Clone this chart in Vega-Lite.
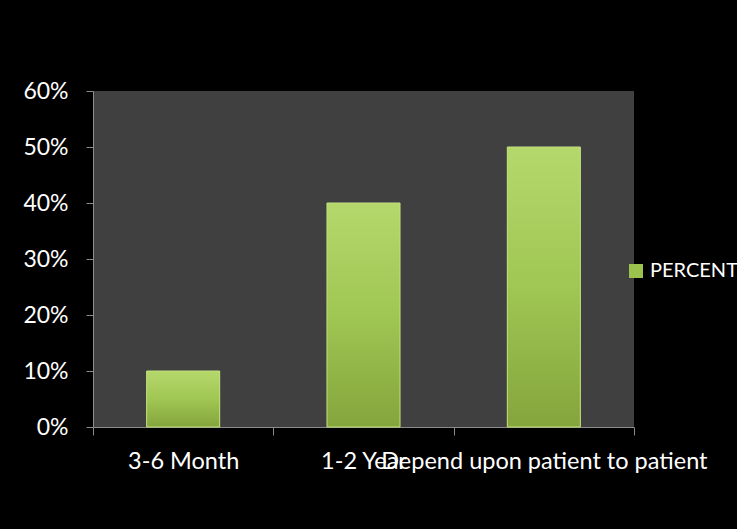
{
  "$schema": "https://vega.github.io/schema/vega-lite/v6.json",
  "autosize": "none",
  "width": 541,
  "height": 336,
  "padding": {"left": 93, "top": 91, "right": 103, "bottom": 102},
  "background": "#000000",
  "view": {"fill": "#404040", "stroke": null},
  "data": {
    "values": [
      {"period": "3-6 Month", "value": 0.10, "series": "PERCENT"},
      {"period": "1-2 Year", "value": 0.40, "series": "PERCENT"},
      {"period": "Depend upon patient to patient", "value": 0.50, "series": "PERCENT"}
    ]
  },
  "encoding": {
    "x": {
      "field": "period", "type": "nominal", "sort": null, "title": null,
      "scale": {"paddingInner": 0, "paddingOuter": 0},
      "axis": {
        "labelAngle": 0, "labelColor": "#ffffff", "labelFont": "Lato", "labelFontSize": 23.5,
        "labelPadding": 14, "labelLimit": 0, "labelOverlap": false,
        "domainColor": "#8c8c8c", "tickColor": "#8c8c8c", "tickSize": 8,
        "tickBand": "extent", "grid": false
      }
    },
    "y": {
      "field": "value", "type": "quantitative", "title": null,
      "scale": {"domain": [0, 0.6], "nice": false},
      "axis": {
        "values": [0, 0.1, 0.2, 0.3, 0.4, 0.5, 0.6], "format": ".0%",
        "labelColor": "#ffffff", "labelFont": "Lato", "labelFontSize": 23,
        "labelPadding": 18, "domainColor": "#8c8c8c", "tickColor": "#8c8c8c",
        "tickSize": 7, "grid": false
      }
    }
  },
  "layer": [
    {
      "mark": {"type": "bar", "width": {"band": 0.405}},
      "encoding": {
        "color": {
          "field": "series", "type": "nominal", "title": null,
          "scale": {"range": ["#9cc24e"]},
          "legend": {
            "orient": "none", "legendX": 533, "legendY": 170,
            "symbolType": "square", "symbolSize": 196, "symbolStrokeWidth": 0,
            "labelColor": "#ffffff", "labelFont": "Lato", "labelFontSize": 20,
            "labelLimit": 0, "labelOffset": 4
          }
        }
      }
    },
    {
      "mark": {
        "type": "bar", "width": {"band": 0.405},
        "color": {
          "gradient": "linear", "x1": 0, "y1": 0, "x2": 0, "y2": 1,
          "stops": [
            {"offset": 0, "color": "#b5d86c"},
            {"offset": 0.5, "color": "#a0c653"},
            {"offset": 1, "color": "#84a53c"}
          ]
        },
        "stroke": "#c2e07e", "strokeWidth": 1
      },
      "encoding": {}
    }
  ]
}
